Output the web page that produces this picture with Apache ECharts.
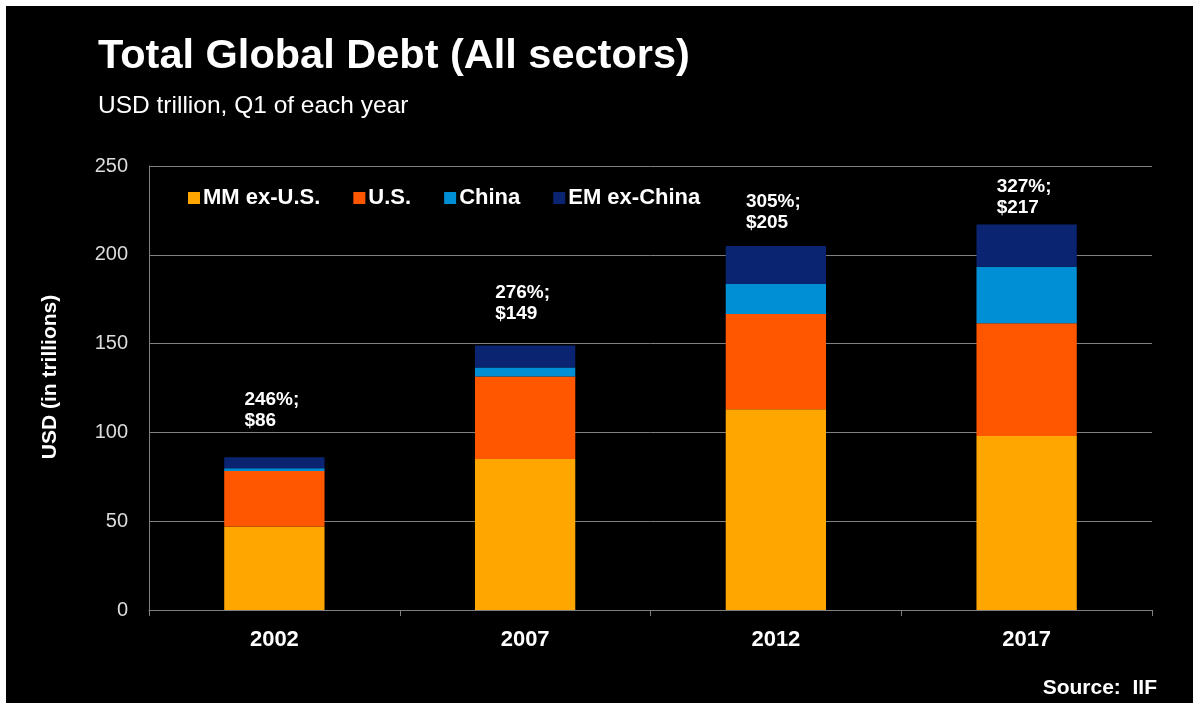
<!DOCTYPE html>
<html>
<head>
<meta charset="utf-8">
<title>Total Global Debt (All sectors)</title>
<script src="https://cdn.jsdelivr.net/npm/echarts@6/dist/echarts.min.js"></script>
<style>
  html, body { margin: 0; padding: 0; background: #fff; }
  #chart { position: absolute; left: 6px; top: 6px; width: 1187px; height: 697px; }
</style>
</head>
<body>
<div id="chart"></div>
<script>
// data (USD trillion, Q1 of each year)
const years = ['2002', '2007', '2012', '2017']
const mmExUS = [47, 85, 113, 98]
const us = [31.3, 46.5, 53.7, 63.4]
const china = [1.5, 5.1, 16.9, 31.9]
const emExChina = [6.2, 12.4, 21.4, 23.7]
const totals = [86, 149, 205, 217]
const debtToGdp = [246, 276, 305, 327]
const yTicks = { min: 0, max: 250, interval: 50 }

// annotation lift above each bar (px), as placed by hand in the original
const labelLift = [26, 21, 13, 6]

const font = "'Liberation Sans', Arial, sans-serif"
const colors = {
  mm: '#FFA600',
  us: '#FF5700',
  china: '#008FD5',
  em: '#0A2472',
  grid: '#808080'
}

const chart = echarts.init(document.getElementById('chart'))

function bar (name, values, color) {
  return {
    name: name,
    type: 'bar',
    stack: 'debt',
    barWidth: '40%',
    itemStyle: { color: color },
    data: values
  }
}

const topSeries = bar('EM ex-China', emExChina.map((v, i) => ({
  value: v,
  label: { distance: labelLift[i] }
})), colors.em)
topSeries.label = {
  show: true,
  position: 'top',
  align: 'left',
  offset: [-30, 0],
  color: '#fff',
  fontFamily: font,
  fontWeight: 'bold',
  fontSize: 19,
  lineHeight: 21,
  formatter: p => debtToGdp[p.dataIndex] + '%;\n$' + totals[p.dataIndex]
}

chart.setOption({
  backgroundColor: '#000',
  animation: false,
  title: [
    {
      text: 'Total Global Debt (All sectors)',
      left: 87,
      top: 25,
      textStyle: { color: '#fff', fontFamily: font, fontWeight: 'bold', fontSize: 41.5 }
    },
    {
      text: 'USD trillion, Q1 of each year',
      left: 87,
      top: 83,
      textStyle: { color: '#fff', fontFamily: font, fontWeight: 'normal', fontSize: 24.5 }
    },
    {
      text: 'Source:  IIF',
      right: 31,
      top: 667,
      textStyle: { color: '#fff', fontFamily: font, fontWeight: 'bold', fontSize: 21 }
    }
  ],
  legend: {
    left: 177,
    top: 176,
    itemWidth: 12,
    itemHeight: 12,
    itemGap: 33,
    icon: 'rect',
    textStyle: { color: '#fff', fontFamily: font, fontWeight: 'bold', fontSize: 22, padding: [0, 0, 0, -2] },
    data: ['MM ex-U.S.', 'U.S.', 'China', 'EM ex-China']
  },
  grid: { left: 143, top: 160, right: 41, bottom: 93 },
  xAxis: {
    type: 'category',
    data: years,
    axisLine: { lineStyle: { color: colors.grid, width: 1 } },
    axisTick: { show: true, length: 6, lineStyle: { color: colors.grid } },
    axisLabel: { color: '#fff', fontFamily: font, fontWeight: 'bold', fontSize: 22, margin: 19 }
  },
  yAxis: {
    type: 'value',
    min: yTicks.min,
    max: yTicks.max,
    interval: yTicks.interval,
    name: 'USD (in trillions)',
    nameLocation: 'middle',
    nameRotate: 90,
    nameGap: 88,
    nameTextStyle: { color: '#fff', fontFamily: font, fontWeight: 'bold', fontSize: 21, padding: [0, 0, 0, 22] },
    axisLine: { show: true, lineStyle: { color: colors.grid, width: 1 } },
    axisTick: { show: false },
    axisLabel: { color: '#dcdcdc', fontFamily: font, fontSize: 20, margin: 21 },
    splitLine: { lineStyle: { color: colors.grid, width: 1 } }
  },
  series: [
    bar('MM ex-U.S.', mmExUS, colors.mm),
    bar('U.S.', us, colors.us),
    bar('China', china, colors.china),
    topSeries
  ]
})
</script>
</body>
</html>
